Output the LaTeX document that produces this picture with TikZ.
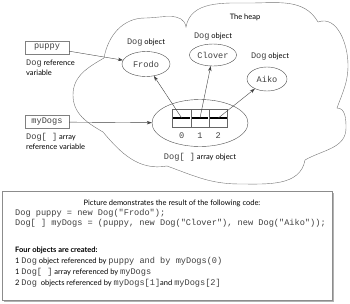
\documentclass[tikz,border=0pt]{standalone}
\usepackage{fontspec}
\setmainfont{Lato}
\setmonofont[Scale=1.15]{Liberation Mono}
\usetikzlibrary{calc}
\usetikzlibrary{arrows.meta}
\usetikzlibrary{shapes.geometric}

\newcommand{\sz}{\fontsize{7.5}{10}\selectfont}
\newcommand{\mono}[1]{{\ttfamily\color{black!75}#1}}

\tikzset{
  obj/.style={draw=black!70, ellipse, inner sep=0pt, font=\sz\ttfamily, text=black!75},
  var/.style={draw=black!50, inner sep=0pt, minimum width=44, minimum height=13, font=\sz\ttfamily, text=black!75},
  cell/.style={draw=black!60, minimum width=18.3, minimum height=18},
  ref/.style={draw=black!75, -{Stealth[length=5pt,width=3.5pt]}},
  txt/.style={anchor=west, align=left},
}

\begin{document}
\begin{tikzpicture}[x=1pt,y=1pt,inner sep=0pt,font=\sz]
\useasboundingbox (0,0) rectangle (350,-303);
\draw[black!55] (103,-132) to[out=150,in=270] (73,-95) to[out=90,in=210] (104,-58)
  to[out=80,in=180] (145,-18) to[out=0,in=100] (186,-27)
  to[out=80,in=180] (250,-3) to[out=0,in=120] (318,-22)
  to[out=20,in=90] (348,-65) to[out=270,in=70] (337,-108)
  to[out=0,in=90] (346,-128) to[out=270,in=30] (305,-160)
  to[out=-100,in=0] (240,-184) to[out=180,in=-20] (167,-166)
  to[out=190,in=-50] (103,-132) -- cycle;
\node (heap) at (245,-17) {The heap};

\node[var] (puppy) at (47,-47.5) {puppy};
\node[txt] (lpuppy) at (26,-68) {\mono{Dog} reference\\variable};
\node[var] (mydogs) at (47,-122) {myDogs};
\node[txt] (lmydogs) at (26,-141.5) {\mono{Dog[ ]} array\\reference variable};

\node[obj, minimum width=48, minimum height=25] (frodo) at (146,-64) {Frodo};
\node (lfrodo) at ($(frodo) + (0,21)$) {\mono{Dog} object};
\node[obj, minimum width=47, minimum height=22] (clover) at (213,-55) {Clover};
\node (lclover) at ($(clover) + (0,18)$) {\mono{Dog} object};
\node[obj, minimum width=40, minimum height=24] (aiko) at (267,-79) {Aiko};
\node (laiko) at ($(aiko) + (3,22)$) {\mono{Dog} object};

\node[obj, minimum width=96, minimum height=47] (arr) at (200,-123) {};
\foreach \i in {0,1,2} {
  \node[cell] (c\i) at ($(arr) + (-18.3+18.3*\i, 5)$) {};
  \draw[line width=2pt] ($(c\i.west)+(1,0)$) -- ($(c\i.east)+(-1,0)$);
  \node (n\i) at ($(c\i) + (0,-18)$) {\mono{\i}};
}
\node (larr) at ($(arr) + (0,-34)$) {\mono{Dog[ ]} array object};

\draw[ref] (puppy) -- (frodo);
\draw[ref] (mydogs) -- (arr);
\draw[ref] (c0.center) -- (frodo);
\draw[ref] (c1.center) -- (clover);
\draw[ref] (c2.center) -- (aiko);

\node[fill=black!30, minimum width=330, minimum height=109] (shadow) at (168.5,-247) {};
\node[draw=black!45, fill=white, minimum width=330, minimum height=109] (box) at (167,-245.5) {};
\node (title) at (172,-203) {Picture demonstrates the result of the following code:};
\node[txt] (code) at (15,-218) {\mono{Dog puppy = new Dog("Frodo");}\\\mono{Dog[ ] myDogs = (puppy, new Dog("Clover"), new Dog("Aiko"));}};
\node[txt, font=\fontsize{7.5}{11}\selectfont] (list) at (15,-267.5) {\textbf{Four objects are created:}\\
  1 \mono{Dog} object referenced by \mono{puppy and by myDogs(0)}\\
  1 \mono{Dog[ ]} array referenced by \mono{myDogs}\\
  2 \mono{Dog}\ \ objects referenced by \mono{myDogs[1]}and \mono{myDogs[2]}};
\end{tikzpicture}
\end{document}
